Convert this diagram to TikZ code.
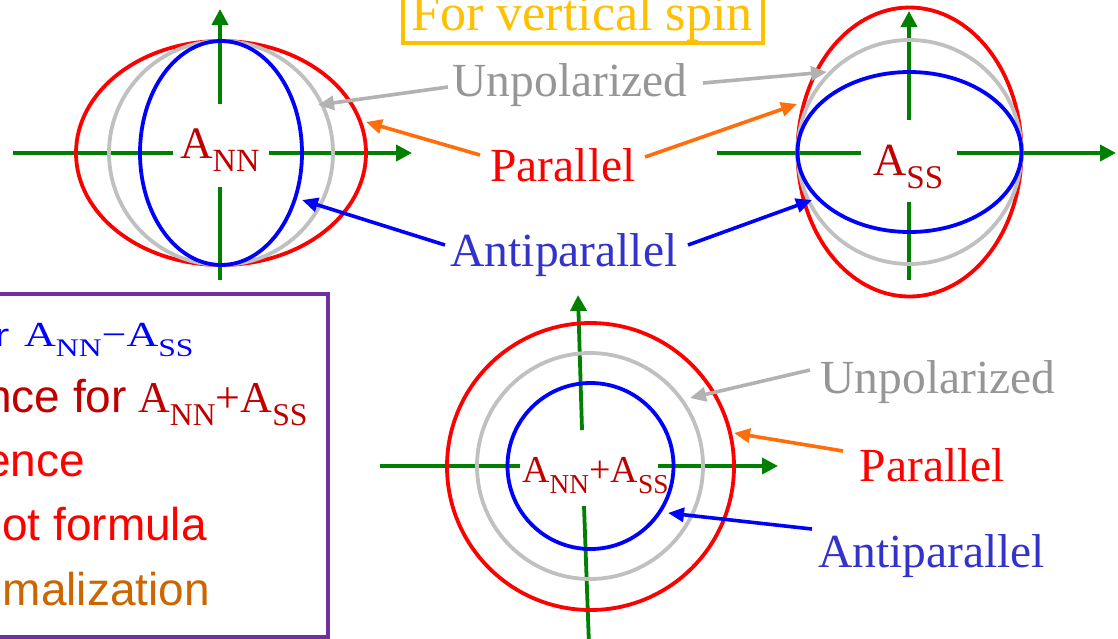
\documentclass[tikz,border=0pt]{standalone}
\usepackage{fontspec}
\setmainfont{Liberation Serif}
\newfontfamily\arialfont{Liberation Sans}
\usetikzlibrary{arrows.meta}
\definecolor{axgreen}{RGB}{0,128,0}
\definecolor{lgray}{RGB}{192,192,192}
\definecolor{argray}{RGB}{178,178,178}
\definecolor{txgray}{RGB}{150,150,150}
\definecolor{dred}{RGB}{192,0,0}
\definecolor{aorange}{RGB}{255,110,10}
\definecolor{apblue}{RGB}{51,51,204}
\definecolor{boxpurple}{RGB}{112,48,160}
\definecolor{gold}{RGB}{255,192,0}
\definecolor{brorange}{RGB}{204,102,0}
\newcommand\sbs[1]{\raisebox{-0.3em}{\scalebox{0.72}{#1}}}
\tikzset{
  axisline/.style={draw=axgreen, line width=3.8pt},
  axisarrow/.style={axisline, -{Triangle[length=16pt,width=16pt]}},
  callout/.style={line width=3.6pt, -{Triangle[length=16pt,width=14pt]}},
  curve/.style={line width=3.8pt},
  lbl/.style={inner sep=0pt, anchor=base, font=\fontsize{47.5}{50}\selectfont},
  ctr/.style={inner sep=0pt, anchor=base west, text=dred},
  boxtxt/.style={inner sep=0pt, font=\arialfont\fontsize{46}{50}\selectfont},
  boxmath/.style={inner sep=0pt, anchor=base west, font=\fontsize{44}{48}\selectfont}
}
\begin{document}
\begin{tikzpicture}[x=1pt,y=-1pt]
\useasboundingbox (0,0) rectangle (1118,638);
\clip (0,0) rectangle (1118,638);
\fill[white] (0,0) rectangle (1118,638);

% ---------- left diagram (A_NN) ----------
\coordinate (Lh1) at (13,153); \coordinate (Lh2) at (173,153);
\coordinate (Lh3) at (269,153); \coordinate (Lh4) at (412,153);
\coordinate (Lv1) at (220,104); \coordinate (Lv2) at (220,9);
\coordinate (Lv3) at (220,187); \coordinate (Lv4) at (220,280);
\draw[axisline] (Lh1) -- (Lh2);
\draw[axisarrow] (Lh3) -- (Lh4);
\draw[axisarrow] (Lv1) -- (Lv2);
\draw[axisline] (Lv3) -- (Lv4);
\draw[curve, red] (221,153) ellipse [x radius=145pt, y radius=112pt];
\draw[curve, lgray] (221,153) ellipse [x radius=112pt, y radius=112pt];
\draw[curve, blue] (221,153) ellipse [x radius=81pt, y radius=112pt];
\node[ctr, font=\fontsize{45}{48}\selectfont] (ann) at (180,158) {A\sbs{NN}};

% ---------- right diagram (A_SS) ----------
\coordinate (Rh1) at (717,153); \coordinate (Rh2) at (861,153);
\coordinate (Rh3) at (957,153); \coordinate (Rh4) at (1116,153);
\coordinate (Rv1) at (909,120); \coordinate (Rv2) at (909,11);
\coordinate (Rv3) at (909,202); \coordinate (Rv4) at (909,280);
\draw[axisline] (Rh1) -- (Rh2);
\draw[axisarrow] (Rh3) -- (Rh4);
\draw[axisarrow] (Rv1) -- (Rv2);
\draw[axisline] (Rv3) -- (Rv4);
\draw[curve, red] (909.5,152) ellipse [x radius=112pt, y radius=144.5pt];
\draw[curve, lgray] (909.5,152) ellipse [x radius=112pt, y radius=112pt];
\draw[curve, blue] (909.5,152) ellipse [x radius=112pt, y radius=80pt];
\node[ctr, font=\fontsize{46}{48}\selectfont] (ass) at (873,175) {A\sbs{SS}};

% ---------- bottom diagram (A_NN + A_SS) ----------
\coordinate (Bh1) at (380,466); \coordinate (Bh2) at (520,466);
\coordinate (Bh3) at (658,466); \coordinate (Bh4) at (778,466);
\coordinate (Bv1) at (582,430); \coordinate (Bv2) at (578,295);
\coordinate (Bv3) at (584,506); \coordinate (Bv4) at (589,645);
\draw[axisline] (Bh1) -- (Bh2);
\draw[axisarrow] (Bh3) -- (Bh4);
\draw[axisarrow] (Bv1) -- (Bv2);
\draw[axisline] (Bv3) -- (Bv4);
\draw[curve, red] (590.5,466.5) ellipse [x radius=143.5pt, y radius=143.5pt];
\draw[curve, lgray] (590,466) ellipse [x radius=113pt, y radius=113pt];
\draw[curve, blue] (590.5,466) ellipse [x radius=83pt, y radius=83pt];
\node[ctr, font=\fontsize{38}{40}\selectfont] (asum) at (522,482) {A\sbs{NN}+A\sbs{SS}};

% ---------- title box ----------
\node[inner sep=0pt, anchor=base, text=gold, font=\fontsize{52}{54}\selectfont] (title) at (582,30) {For vertical spin};
\draw[gold, line width=3.5pt] (403,-5) rectangle (763,43);

% ---------- top labels ----------
\node[lbl, text=txgray] (unp) at (570,96) {Unpolarized};
\node[lbl, text=red] (par) at (563,181) {Parallel};
\node[lbl, text=apblue] (anti) at (564,266) {Antiparallel};

\coordinate (uL0) at (448,87); \coordinate (uL1) at (318,105);
\coordinate (uR0) at (703,83); \coordinate (uR1) at (827,72);
\coordinate (pL0) at (480,155); \coordinate (pL1) at (366,122);
\coordinate (pR0) at (645,157); \coordinate (pR1) at (797,104);
\coordinate (aL0) at (445,245); \coordinate (aL1) at (302,200);
\coordinate (aR0) at (688,245); \coordinate (aR1) at (812,200);
\draw[callout, argray] (uL0) -- (uL1);
\draw[callout, argray] (uR0) -- (uR1);
\draw[callout, aorange] (pL0) -- (pL1);
\draw[callout, aorange] (pR0) -- (pR1);
\draw[callout, blue] (aL0) -- (aL1);
\draw[callout, blue] (aR0) -- (aR1);

% ---------- bottom labels ----------
\node[lbl, text=txgray] (unp2) at (938,393) {Unpolarized};
\node[lbl, text=red] (par2) at (932.5,481) {Parallel};
\node[lbl, text=apblue] (anti2) at (931.5,567) {Antiparallel};
\coordinate (u2a) at (810,370); \coordinate (u2b) at (690,398);
\coordinate (p2a) at (843,451); \coordinate (p2b) at (734,433);
\coordinate (a2a) at (812,529); \coordinate (a2b) at (668,513);
\draw[callout, argray] (u2a) -- (u2b);
\draw[callout, aorange] (p2a) -- (p2b);
\draw[callout, blue] (a2a) -- (a2b);

% ---------- left text box ----------
\draw[boxpurple, line width=3.5pt] (-5,294) rectangle (328,637);
\node[boxtxt, anchor=base west, text=blue] (l1a) at (-6,346) {\scalebox{1}[0.7]{r}};
\node[boxmath, text=blue] (l1b) at (24,346) {\scalebox{1}[0.8]{A\sbs{NN}−A\sbs{SS}}};
\node[boxtxt, anchor=base west, text=dred] (l2a) at (-14,412) {nce for};
\node[boxmath, text=dred] (l2b) at (138,412) {A\sbs{NN}+A\sbs{SS}};
\node[boxtxt, anchor=base east, text=red] (l3) at (85,476) {ence};
\node[boxtxt, anchor=base east, text=red] (l4) at (207,540) {ot formula};
\node[boxtxt, anchor=base east, text=brorange] (l5) at (210,605) {malization};
\end{tikzpicture}
\end{document}
